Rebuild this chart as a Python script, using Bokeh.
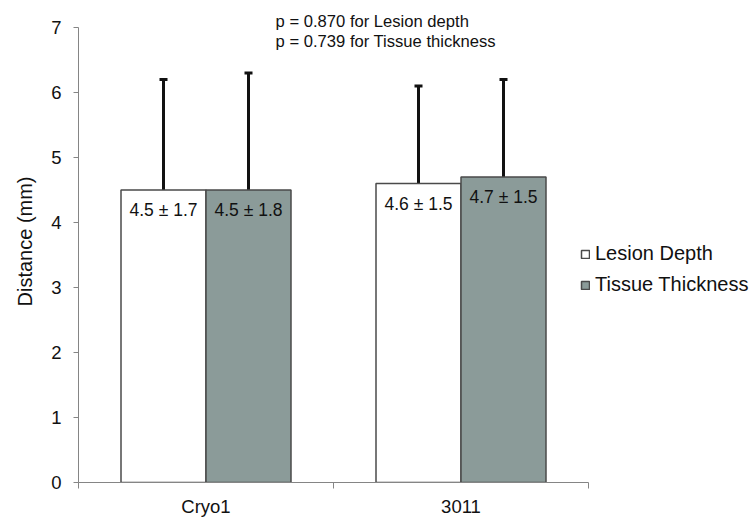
from bokeh.plotting import figure
from bokeh.models import (ColumnDataSource, FixedTicker, Whisker, TeeHead, Legend,
                          LegendItem, Label, Range1d)
from bokeh.core.properties import value
from bokeh.embed import file_html
from bokeh.resources import INLINE

# ---- data ----
categories = ["Cryo1", "3011"]
series_names = ["Lesion Depth", "Tissue Thickness"]
lesion_mean = [4.5, 4.6]
lesion_sd = [1.7, 1.5]
tissue_mean = [4.5, 4.7]
tissue_sd = [1.8, 1.5]
y_ticks = [0, 1, 2, 3, 4, 5, 6, 7]
p_texts = ["p = 0.870 for Lesion depth", "p = 0.739 for Tissue thickness"]

FONT = "Liberation Sans"
TXT = "#111111"
AX = "#858585"
GRAY = "#8b9b99"
EDGE = "#4a4a4a"

n = len(categories)
y_max = y_ticks[-1]
# frame spans the whole page right/top; axis lines limited with bounds
p = figure(width=755, height=525, output_backend="svg", toolbar_location=None,
           x_range=Range1d(0, n * 677 / 510), y_range=Range1d(0, y_max * 482 / 455),
           min_border_left=78, min_border_right=0, min_border_top=0,
           min_border_bottom=43)
p.outline_line_color = None
p.xgrid.visible = False
p.ygrid.visible = False
p.background_fill_color = "white"
p.border_fill_color = "white"

bw = 1.0 / 3.0
centers = [i + 0.5 for i in range(n)]

def make_src(means, sds, shift):
    return ColumnDataSource(dict(
        x=[c + shift for c in centers],
        top=means,
        upper=[m + s for m, s in zip(means, sds)],
        label=[f"{m} \u00b1 {s}" for m, s in zip(means, sds)],
    ))

src_l = make_src(lesion_mean, lesion_sd, -bw / 2)
src_t = make_src(tissue_mean, tissue_sd, bw / 2)

r_l = p.vbar(x="x", top="top", width=bw, source=src_l, fill_color="white",
             line_color=EDGE, line_width=1.5)
r_t = p.vbar(x="x", top="top", width=bw, source=src_t, fill_color=GRAY,
             line_color=EDGE, line_width=1.5)

for src in (src_l, src_t):
    w = Whisker(base="x", upper="upper", lower="top", source=src,
                line_color="#111111", line_width=3,
                upper_head=TeeHead(size=8, line_width=3, line_color="#111111"),
                lower_head=None)
    p.add_layout(w)
    p.text(x="x", y="top", text="label", source=src, text_align="center",
           text_baseline="middle", y_offset=20, text_font=value(FONT),
           text_font_size="17.5px", text_color=TXT)

# axes
p.yaxis.bounds = (0, y_max)
p.yaxis.ticker = FixedTicker(ticks=y_ticks)
p.yaxis.axis_label = "Distance (mm)"
p.yaxis.axis_label_text_font = FONT
p.yaxis.axis_label_text_font_size = "20px"
p.yaxis.axis_label_text_font_style = "normal"
p.yaxis.axis_label_text_color = TXT
p.yaxis.axis_label_standoff = 12
p.yaxis.major_label_text_font = FONT
p.yaxis.major_label_text_font_size = "18.5px"
p.yaxis.major_label_text_color = TXT
p.yaxis.major_label_standoff = 12
p.yaxis.major_tick_out = 5
p.yaxis.major_tick_in = 0
p.yaxis.minor_tick_out = 0
p.yaxis.minor_tick_in = 0
p.yaxis.axis_line_color = AX
p.yaxis.major_tick_line_color = AX

p.xaxis.bounds = (0, n)
p.xaxis.ticker = FixedTicker(ticks=centers, minor_ticks=list(range(n + 1)))
p.xaxis.major_label_overrides = {c: name for c, name in zip(centers, categories)}
p.xaxis.major_label_text_font = FONT
p.xaxis.major_label_text_font_size = "18.5px"
p.xaxis.major_label_text_color = TXT
p.xaxis.major_label_standoff = 7
p.xaxis.major_tick_out = 0
p.xaxis.major_tick_in = 0
p.xaxis.minor_tick_out = 6
p.xaxis.minor_tick_in = 0
p.xaxis.axis_line_color = AX
p.xaxis.minor_tick_line_color = AX

# p-value annotations
for i, t in enumerate(p_texts):
    p.add_layout(Label(x=0.773, y=7.09 - i * 0.31, text=t, text_font=FONT,
                       text_font_size="16.6px", text_color=TXT,
                       text_baseline="alphabetic"))

legend = Legend(items=[LegendItem(label=series_names[0], renderers=[r_l]),
                       LegendItem(label=series_names[1], renderers=[r_t])],
                location=(502, 186), orientation="vertical",
                glyph_width=10, glyph_height=10, label_standoff=5,
                label_text_font=FONT, label_text_font_size="20px",
                label_text_color=TXT, label_height=20, spacing=8,
                padding=0, margin=0, border_line_color=None,
                background_fill_alpha=0)
p.add_layout(legend, "center")

open("out.html", "w").write(file_html(p, INLINE))
